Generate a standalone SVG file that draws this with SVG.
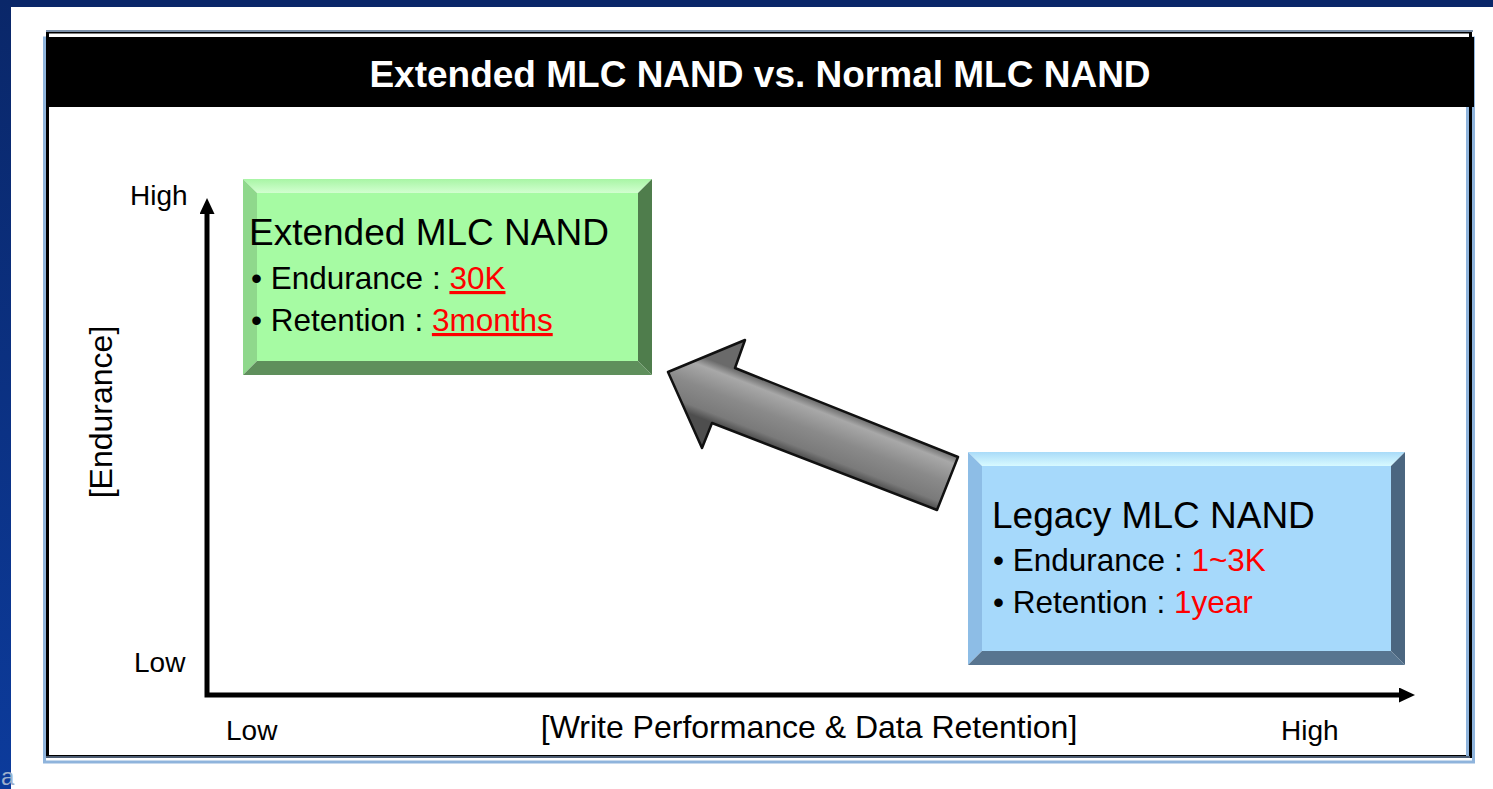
<svg xmlns="http://www.w3.org/2000/svg" width="1493" height="789" viewBox="0 0 1493 789">
<defs>
<style>
.t{font-family:"Liberation Sans",Arial,sans-serif;fill:#000}
.hdr{font-family:"Liberation Sans",Arial,sans-serif;font-weight:bold;font-size:37px;fill:#fff}
.ttl{font-size:37px}
.bul{font-size:31.5px}
.lab{font-size:28px}
.ax{font-size:32px}
.red{fill:#ff0000}
.ul{text-decoration:underline}
.axis{fill:none;stroke:#000;stroke-width:5;stroke-linejoin:miter}
</style>
<linearGradient id="navy" x1="0" y1="0" x2="0" y2="1">
<stop offset="0" stop-color="#0a2769"/>
<stop offset="1" stop-color="#0c3b9c"/>
</linearGradient>
<linearGradient id="gTop" x1="0" y1="0" x2="0" y2="1">
<stop offset="0" stop-color="#a8f5a5"/>
<stop offset="1" stop-color="#d2ffd0"/>
</linearGradient>
<linearGradient id="bTop" x1="0" y1="0" x2="0" y2="1">
<stop offset="0" stop-color="#a9dbf8"/>
<stop offset="1" stop-color="#d8faff"/>
</linearGradient>
<linearGradient id="arr" gradientUnits="userSpaceOnUse" x1="850" y1="414" x2="829" y2="468">
<stop offset="0" stop-color="#6a6a6a"/>
<stop offset="0.15" stop-color="#a8a8a8"/>
<stop offset="0.5" stop-color="#8a8a8a"/>
<stop offset="0.85" stop-color="#7a7a7a"/>
<stop offset="1" stop-color="#4e4e4e"/>
</linearGradient>
<marker id="ah" markerUnits="userSpaceOnUse" markerWidth="16" markerHeight="16" refX="0" refY="7.5" orient="auto-start-reverse">
<path d="M0,0 L16,7.5 L0,15 z" fill="#000"/>
</marker>
</defs>

<rect x="0" y="0" width="1493" height="789" fill="#fff"/>
<rect x="0" y="0" width="1493" height="7" fill="#0a2769"/>
<rect x="0" y="0" width="11" height="789" fill="url(#navy)"/>
<text x="1" y="785" class="t" style="font-size:24px;fill:#9fb0cc">a</text>

<g id="frame">
<rect x="44.5" y="38" width="1429" height="724" fill="none" stroke="#8fb4dc" stroke-width="3"/>
<rect x="47.5" y="32" width="1423" height="724.5" fill="#fff" stroke="#000" stroke-width="3"/>
<rect x="1466" y="38" width="3" height="718" fill="#8fb4dc"/>
<line x1="46" y1="31" x2="1473" y2="31" stroke="#7b8fa8" stroke-width="2"/>
<line x1="46" y1="757" x2="1470" y2="757" stroke="#4d5d73" stroke-width="2"/>
<rect x="47" y="37" width="1427" height="70" fill="#000"/>
<text x="760" y="87" class="hdr" text-anchor="middle">Extended MLC NAND vs. Normal MLC NAND</text>
</g>

<g id="connectors">
<path class="axis" d="M207,214 L207,695 L1399,695" marker-start="url(#ah)" marker-end="url(#ah)"/>
<polygon id="big-arrow" points="668,372 745,340 735,368 958,457 937,510 712,423 702,448" fill="url(#arr)" stroke="#111" stroke-width="2.5" stroke-linejoin="round"/>
</g>

<g id="axis-labels">
<text x="130" y="205" class="t lab">High</text>
<text x="134" y="672" class="t lab">Low</text>
<text x="226" y="740" class="t lab">Low</text>
<text x="1281" y="740" class="t lab">High</text>
<text transform="translate(112,412) rotate(-90)" x="0" y="0" class="t ax" text-anchor="middle">[Endurance]</text>
<text x="809" y="738" class="t ax" text-anchor="middle">[Write Performance &amp; Data Retention]</text>
</g>

<g id="extended">
<polygon points="243,179 652,179 638,193 257,193" fill="url(#gTop)"/>
<polygon points="243,179 257,193 257,361 243,375" fill="#8fd88c"/>
<polygon points="652,179 638,193 638,361 652,375" fill="#4f7d4c"/>
<polygon points="243,375 652,375 638,361 257,361" fill="#5f8f5c"/>
<rect x="257" y="193" width="381" height="168" fill="#a6fba3"/>
<text x="249" y="245" class="t ttl">Extended MLC NAND</text>
<text x="251" y="289" class="t bul">• Endurance : <tspan class="red ul">30K</tspan></text>
<text x="251" y="331" class="t bul">• Retention : <tspan class="red ul">3months</tspan></text>
</g>

<g id="legacy">
<polygon points="968,452 1405,452 1391,466 982,466" fill="url(#bTop)"/>
<polygon points="968,452 982,466 982,651 968,665" fill="#8dbde6"/>
<polygon points="1405,452 1391,466 1391,651 1405,665" fill="#4b6680"/>
<polygon points="968,665 1405,665 1391,651 982,651" fill="#587590"/>
<rect x="982" y="466" width="409" height="185" fill="#a6d9fb"/>
<text x="992" y="528" class="t ttl">Legacy MLC NAND</text>
<text x="993" y="571" class="t bul">• Endurance : <tspan class="red">1~3K</tspan></text>
<text x="993" y="613" class="t bul">• Retention : <tspan class="red">1year</tspan></text>
</g>
</svg>
